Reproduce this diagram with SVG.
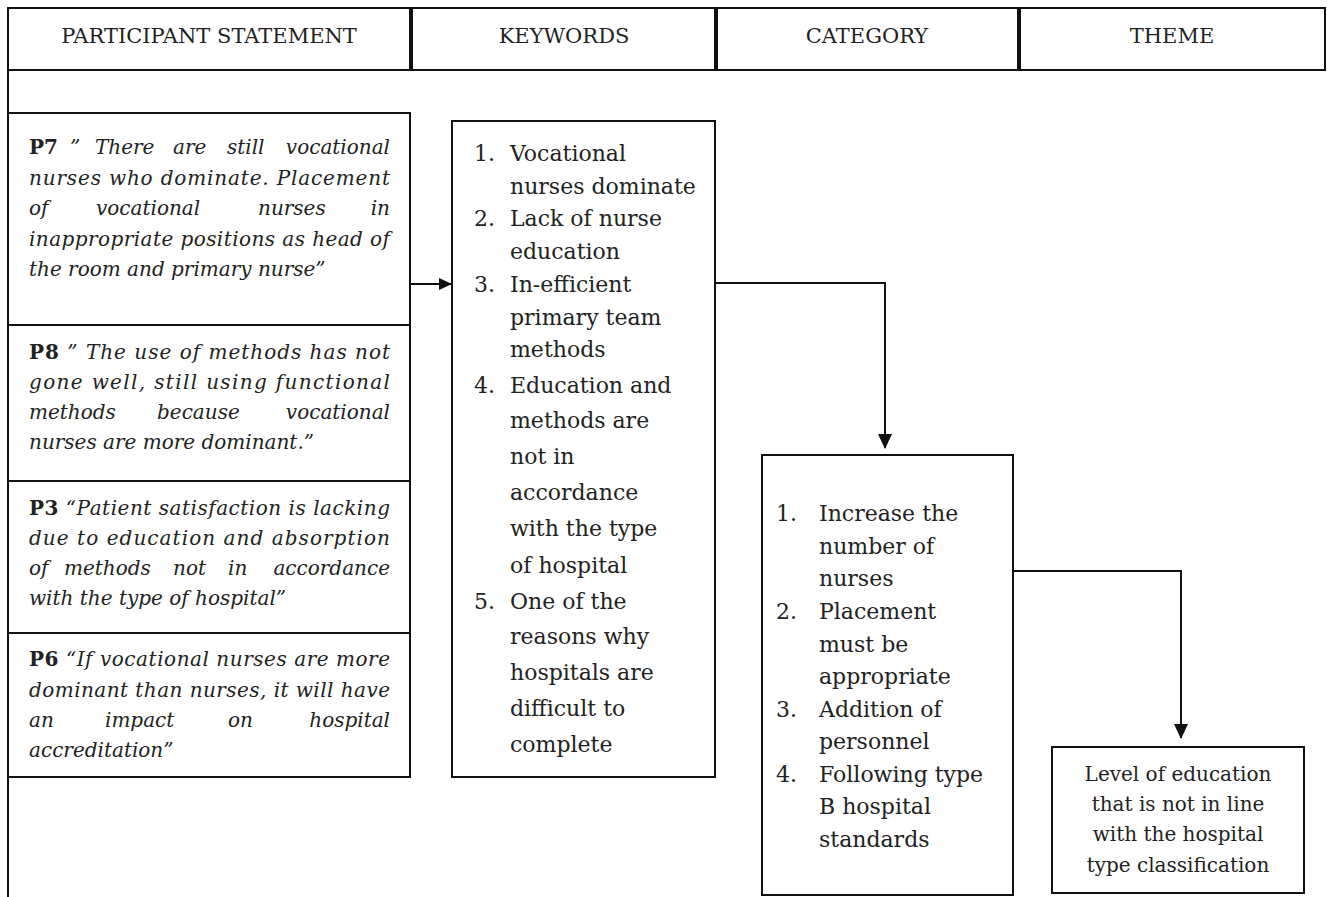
<svg xmlns="http://www.w3.org/2000/svg" width="1327" height="897" viewBox="0 0 1327 897">
<style>
.box{fill:#fff;stroke:#111;stroke-width:2}
.hd{font-family:"DejaVu Serif","Liberation Serif",serif;font-size:21px;fill:#222;text-anchor:middle}
.pt{font-family:"DejaVu Serif","Liberation Serif",serif;font-size:20px;font-style:italic;fill:#222}
.pb{font-style:normal;font-weight:bold}
.kw{font-family:"DejaVu Serif","Liberation Serif",serif;font-size:22px;fill:#222}
.th{font-family:"DejaVu Serif","Liberation Serif",serif;font-size:20px;fill:#222;text-anchor:middle}
.conn{fill:none;stroke:#111;stroke-width:2}
</style>
<defs>
<marker id="arr" markerWidth="13" markerHeight="12" refX="12" refY="6" orient="auto" markerUnits="userSpaceOnUse">
<path d="M0,0 L13,6 L0,12 Z" fill="#111"/>
</marker>
<marker id="arrD" markerWidth="15" markerHeight="14" refX="14" refY="7" orient="auto" markerUnits="userSpaceOnUse">
<path d="M0,0 L15,7 L0,14 Z" fill="#111"/>
</marker>
</defs>
<rect width="1327" height="897" fill="#fff"/>

<g id="header">
<rect class="box" x="8" y="8" width="402" height="62"/>
<rect class="box" x="412" y="8" width="303" height="62"/>
<rect class="box" x="717" y="8" width="301" height="62"/>
<rect class="box" x="1020" y="8" width="305" height="62"/>
<text class="hd" x="209" y="43">PARTICIPANT STATEMENT</text>
<text class="hd" x="564" y="43">KEYWORDS</text>
<text class="hd" x="867" y="43">CATEGORY</text>
<text class="hd" x="1172" y="43">THEME</text>
</g>

<g id="frame">
<line x1="8" y1="70" x2="8" y2="897" stroke="#111" stroke-width="2"/>
</g>

<g id="p7">
<rect class="box" x="8" y="113" width="402" height="212"/>
<text class="pt" y="154"><tspan class="pb" x="29">P7</tspan><tspan x="70">”</tspan><tspan x="95">There</tspan><tspan x="173">are</tspan><tspan x="227">still</tspan><tspan x="390" text-anchor="end">vocational</tspan></text>
<text class="pt" x="29" y="185" textLength="361" lengthAdjust="spacing">nurses who dominate. Placement</text>
<text class="pt" y="215"><tspan x="29">of</tspan><tspan x="96">vocational</tspan><tspan x="258">nurses</tspan><tspan x="390" text-anchor="end">in</tspan></text>
<text class="pt" x="29" y="246" textLength="361" lengthAdjust="spacing">inappropriate positions as head of</text>
<text class="pt" x="29" y="276">the room and primary nurse”</text>
</g>

<g id="p8">
<rect class="box" x="8" y="325" width="402" height="156"/>
<text class="pt" x="29" y="359" textLength="361" lengthAdjust="spacing"><tspan class="pb">P8</tspan> ” The use of methods has not</text>
<text class="pt" x="29" y="389" textLength="361" lengthAdjust="spacing">gone well, still using functional</text>
<text class="pt" y="419"><tspan x="29">methods</tspan><tspan x="157">because</tspan><tspan x="390" text-anchor="end">vocational</tspan></text>
<text class="pt" x="29" y="449">nurses are more dominant.”</text>
</g>

<g id="p3">
<rect class="box" x="8" y="481" width="402" height="152"/>
<text class="pt" x="29" y="515" textLength="361" lengthAdjust="spacing"><tspan class="pb">P3</tspan> “Patient satisfaction is lacking</text>
<text class="pt" x="29" y="545" textLength="361" lengthAdjust="spacing">due to education and absorption</text>
<text class="pt" y="575"><tspan x="29">of</tspan><tspan x="64">methods</tspan><tspan x="173">not</tspan><tspan x="228">in</tspan><tspan x="390" text-anchor="end">accordance</tspan></text>
<text class="pt" x="29" y="605">with the type of hospital”</text>
</g>

<g id="p6">
<rect class="box" x="8" y="633" width="402" height="144"/>
<text class="pt" x="29" y="666" textLength="361" lengthAdjust="spacing"><tspan class="pb">P6</tspan> “If vocational nurses are more</text>
<text class="pt" x="29" y="697" textLength="361" lengthAdjust="spacing">dominant than nurses, it will have</text>
<text class="pt" y="727"><tspan x="29">an</tspan><tspan x="105">impact</tspan><tspan x="228">on</tspan><tspan x="390" text-anchor="end">hospital</tspan></text>
<text class="pt" x="29" y="757">accreditation”</text>
</g>

<g id="keywords">
<rect class="box" x="452" y="121" width="263" height="656"/>
<g class="kw">
<text x="474" y="161">1.</text><text x="510" y="161">Vocational</text>
<text x="510" y="194">nurses dominate</text>
<text x="474" y="226">2.</text><text x="510" y="226">Lack of nurse</text>
<text x="510" y="259">education</text>
<text x="474" y="292">3.</text><text x="510" y="292">In-efficient</text>
<text x="510" y="325">primary team</text>
<text x="510" y="357">methods</text>
<text x="474" y="393">4.</text><text x="510" y="393">Education and</text>
<text x="510" y="428">methods are</text>
<text x="510" y="464">not in</text>
<text x="510" y="500">accordance</text>
<text x="510" y="536">with the type</text>
<text x="510" y="573">of hospital</text>
<text x="474" y="609">5.</text><text x="510" y="609">One of the</text>
<text x="510" y="644">reasons why</text>
<text x="510" y="680">hospitals are</text>
<text x="510" y="716">difficult to</text>
<text x="510" y="752">complete</text>
</g>
</g>

<g id="category">
<rect class="box" x="762" y="455" width="251" height="440"/>
<g class="kw">
<text x="776" y="521">1.</text><text x="819" y="521">Increase the</text>
<text x="819" y="554">number of</text>
<text x="819" y="586">nurses</text>
<text x="776" y="619">2.</text><text x="819" y="619">Placement</text>
<text x="819" y="652">must be</text>
<text x="819" y="684">appropriate</text>
<text x="776" y="717">3.</text><text x="819" y="717">Addition of</text>
<text x="819" y="749">personnel</text>
<text x="776" y="782">4.</text><text x="819" y="782">Following type</text>
<text x="819" y="814">B hospital</text>
<text x="819" y="847">standards</text>
</g>
</g>

<g id="theme">
<rect class="box" x="1052" y="747" width="252" height="146"/>
<text class="th" x="1178" y="781">Level of education</text>
<text class="th" x="1178" y="811">that is not in line</text>
<text class="th" x="1178" y="841">with the hospital</text>
<text class="th" x="1178" y="872">type classification</text>
</g>

<g id="connectors">
<path class="conn" d="M410,284 L451,284" marker-end="url(#arr)"/>
<path class="conn" d="M715,283 L885,283 L885,448" marker-end="url(#arrD)"/>
<path class="conn" d="M1013,571 L1181,571 L1181,738" marker-end="url(#arrD)"/>
</g>
</svg>
